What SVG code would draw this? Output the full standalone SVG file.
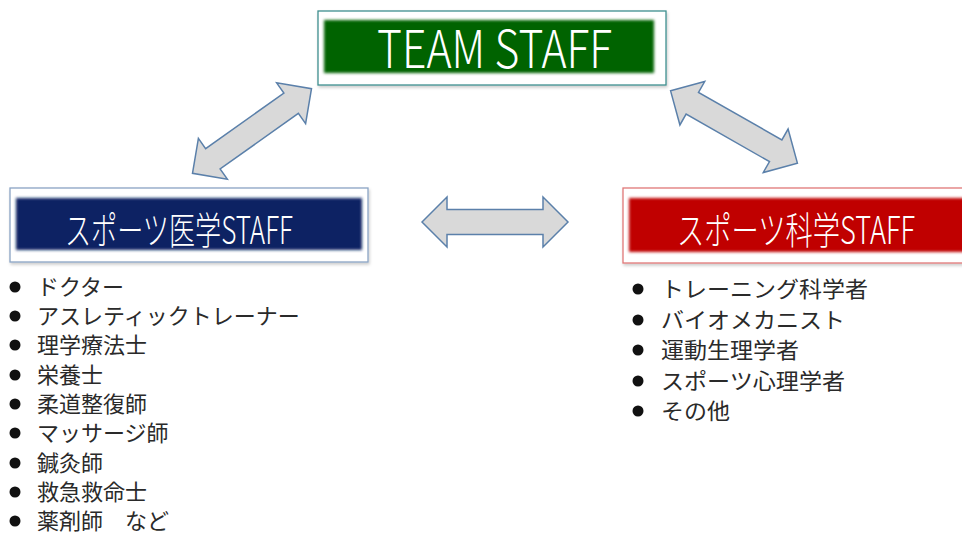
<svg xmlns="http://www.w3.org/2000/svg" width="962" height="534" viewBox="0 0 962 534">
<style>
.hdr{font-family:"Noto Sans CJK JP","Liberation Sans",sans-serif;fill:#fff;font-weight:300}
.item{font-family:"Noto Sans CJK JP","Noto Sans",sans-serif;font-size:22px;fill:#2a2a2a}
.dot{fill:#111}
.arr{fill:#d9d9d9;stroke:#5b80aa;stroke-width:1.5;stroke-linejoin:miter}
</style>
<defs>
<filter id="soft" x="-5%" y="-20%" width="110%" height="140%"><feGaussianBlur stdDeviation="1.8"/></filter>
<filter id="shadow" x="-5%" y="-10%" width="110%" height="125%"><feDropShadow dx="1" dy="2" stdDeviation="1.5" flood-color="#000" flood-opacity="0.2"/></filter>
<path id="dbl" d="M-73,0 L-48,-25 L-48,-12.5 L48,-12.5 L48,-25 L73,0 L48,25 L48,12.5 L-48,12.5 L-48,25 Z"/>
</defs>
<rect width="962" height="534" fill="#fff"/>
<g id="team">
<rect x="318" y="11" width="348" height="74" fill="#fff" stroke="#3e8f8f" stroke-width="1.3" filter="url(#shadow)"/>
<rect x="324" y="20" width="330" height="53" fill="#006400" filter="url(#soft)"/>
<text class="hdr" x="377" y="68" font-size="52" textLength="235" lengthAdjust="spacingAndGlyphs">TEAM STAFF</text>
</g>
<g id="medical">
<rect x="10" y="188" width="358" height="74" fill="#fff" stroke="#8aa4c4" stroke-width="1.3" filter="url(#shadow)"/>
<rect x="16" y="198" width="346" height="52" fill="#0a2163" filter="url(#soft)"/>
<text class="hdr" x="65" y="244" font-size="38" textLength="228" lengthAdjust="spacingAndGlyphs">スポーツ医学STAFF</text>
</g>
<g id="science">
<rect x="623" y="188" width="345" height="75" fill="#fff" stroke="#e07878" stroke-width="1.3" filter="url(#shadow)"/>
<rect x="629" y="198" width="340" height="54" fill="#c00000" filter="url(#soft)"/>
<text class="hdr" x="677" y="244" font-size="38" textLength="238" lengthAdjust="spacingAndGlyphs">スポーツ科学STAFF</text>
</g>
<g id="connectors">
<use href="#dbl" class="arr" transform="translate(252,131) rotate(-35.4)"/>
<use href="#dbl" class="arr" transform="translate(734,127) rotate(29.7)"/>
<use href="#dbl" class="arr" transform="translate(495,222)"/>
</g>
<g id="medical-list">
<circle class="dot" cx="15" cy="287" r="5.5"/><text class="item" x="37" y="295">ドクター</text>
<circle class="dot" cx="15" cy="316" r="5.5"/><text class="item" x="37" y="324">アスレティックトレーナー</text>
<circle class="dot" cx="15" cy="345" r="5.5"/><text class="item" x="37" y="353">理学療法士</text>
<circle class="dot" cx="15" cy="375" r="5.5"/><text class="item" x="37" y="383">栄養士</text>
<circle class="dot" cx="15" cy="404" r="5.5"/><text class="item" x="37" y="412">柔道整復師</text>
<circle class="dot" cx="15" cy="433" r="5.5"/><text class="item" x="37" y="441">マッサージ師</text>
<circle class="dot" cx="15" cy="463" r="5.5"/><text class="item" x="37" y="471">鍼灸師</text>
<circle class="dot" cx="15" cy="492" r="5.5"/><text class="item" x="37" y="500">救急救命士</text>
<circle class="dot" cx="15" cy="521" r="5.5"/><text class="item" x="37" y="529">薬剤師　など</text>
</g>
<g id="science-list">
<circle class="dot" cx="638" cy="289" r="5.5"/><text class="item" x="661" y="297" textLength="207" lengthAdjust="spacingAndGlyphs">トレーニング科学者</text>
<circle class="dot" cx="638" cy="320" r="5.5"/><text class="item" x="661" y="328" textLength="184" lengthAdjust="spacingAndGlyphs">バイオメカニスト</text>
<circle class="dot" cx="638" cy="350" r="5.5"/><text class="item" x="661" y="358" textLength="138" lengthAdjust="spacingAndGlyphs">運動生理学者</text>
<circle class="dot" cx="638" cy="381" r="5.5"/><text class="item" x="661" y="389" textLength="184" lengthAdjust="spacingAndGlyphs">スポーツ心理学者</text>
<circle class="dot" cx="638" cy="411" r="5.5"/><text class="item" x="661" y="419" textLength="69" lengthAdjust="spacingAndGlyphs">その他</text>
</g>
</svg>
